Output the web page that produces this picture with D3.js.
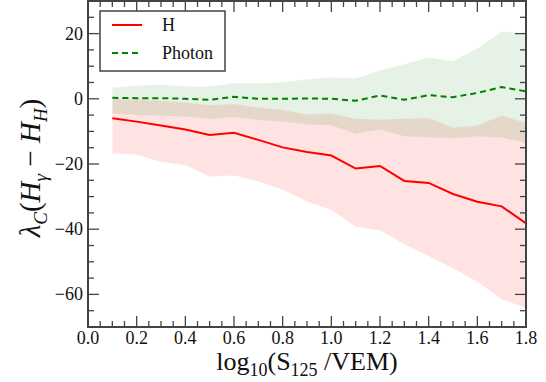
<!DOCTYPE html>
<html>
<head>
<meta charset="utf-8">
<script src="https://d3js.org/d3.v7.min.js"></script>
<style>
  body { margin: 0; background: #fff; }
  svg { display: block; }
  svg text { font-family: "Liberation Serif", "Times New Roman", "DejaVu Serif", serif; }
</style>
</head>
<body>
<svg id="chart" width="546" height="382"></svg>
<script>
// log10(S125/VEM) bins
const xs = [0.1, 0.2, 0.3, 0.4, 0.5, 0.6, 0.7, 0.8, 0.9, 1.0, 1.1, 1.2, 1.3, 1.4, 1.5, 1.6, 1.7, 1.8];
// H: mean and band
const hMean  = [-6.0, -7.0, -8.2, -9.4, -11.1, -10.4, -12.6, -14.9, -16.3, -17.4, -21.4, -20.6, -25.2, -25.8, -29.2, -31.6, -33.0, -38.2];
const hUpper = [0.0, -0.3, -0.6, -1.1, -2.0, -1.6, -2.7, -3.4, -4.8, -4.6, -6.1, -6.4, -6.1, -5.9, -8.9, -8.2, -5.1, -7.4];
const hLower = [-16.8, -17.1, -19.4, -20.3, -23.8, -23.5, -25.3, -27.9, -31.5, -34.1, -39.2, -40.4, -44.6, -48.2, -52.0, -56.1, -61.5, -64.2];
// Photon: mean and band
const pMean  = [0.3, 0.2, 0.2, 0.0, -0.3, 0.6, 0.0, 0.0, 0.1, 0.0, -0.6, 1.0, -0.3, 1.1, 0.5, 1.8, 3.6, 2.3];
const pUpper = [3.4, 4.0, 4.3, 3.8, 3.8, 4.8, 4.7, 5.1, 5.9, 6.5, 6.2, 8.7, 10.6, 12.7, 11.5, 15.4, 20.6, 20.0];
const pLower = [-4.4, -5.0, -5.2, -5.4, -6.2, -5.6, -6.5, -7.0, -7.9, -8.1, -10.7, -9.4, -11.5, -11.8, -12.1, -11.5, -11.9, -13.5];

const xTicks = [0.0, 0.2, 0.4, 0.6, 0.8, 1.0, 1.2, 1.4, 1.6, 1.8];
const yTicks = [-60, -40, -20, 0, 20];

const svg = d3.select("#chart");
const m = { left: 88, right: 20, top: 1, bottom: 55 };
const W = 546, H = 382;
const x = d3.scaleLinear().domain([0, 1.8]).range([m.left, W - m.right]);
const y = d3.scaleLinear().domain([-70, 30]).range([H - m.bottom, m.top]);
const axisColor = "#444";

// bands
const band = (lo, hi) => d3.area()
  .x((d, i) => x(xs[i]))
  .y0((d, i) => y(lo[i]))
  .y1((d, i) => y(hi[i]))(xs);

svg.append("path").attr("d", band(hLower, hUpper))
  .attr("fill", "red").attr("fill-opacity", 0.11);
svg.append("path").attr("d", band(pLower, pUpper))
  .attr("fill", "#008000").attr("fill-opacity", 0.1);

// lines
const line = vals => d3.line().x((d, i) => x(xs[i])).y((d, i) => y(vals[i]))(xs);
svg.append("path").attr("d", line(hMean))
  .attr("fill", "none").attr("stroke", "red").attr("stroke-width", 2);
svg.append("path").attr("d", line(pMean))
  .attr("fill", "none").attr("stroke", "#008000").attr("stroke-width", 2)
  .attr("stroke-dasharray", "6,4");

// ticks (inward on all four sides)
const g = svg.append("g").attr("stroke", axisColor).attr("stroke-width", 1.3);
const x0 = x(0), x1 = x(1.8), y0 = y(-70), y1 = y(30);
d3.range(0, 1.8001, 0.05).forEach(v => {
  const major = Math.abs(v / 0.2 - Math.round(v / 0.2)) < 1e-6;
  const len = major ? 11 : 6;
  g.append("line").attr("x1", x(v)).attr("x2", x(v)).attr("y1", y0).attr("y2", y0 - len);
  g.append("line").attr("x1", x(v)).attr("x2", x(v)).attr("y1", y1).attr("y2", y1 + len);
});
d3.range(-70, 30.001, 5).forEach(v => {
  const major = v % 20 === 0;
  const len = major ? 11 : 6;
  g.append("line").attr("y1", y(v)).attr("y2", y(v)).attr("x1", x0).attr("x2", x0 + len);
  g.append("line").attr("y1", y(v)).attr("y2", y(v)).attr("x1", x1).attr("x2", x1 - len);
});

// frame
svg.append("rect").attr("x", x0).attr("y", y1)
  .attr("width", x1 - x0).attr("height", y0 - y1)
  .attr("fill", "none").attr("stroke", axisColor).attr("stroke-width", 2);

// tick labels
svg.selectAll(".xt").data(xTicks).enter().append("text")
  .attr("x", d => x(d)).attr("y", y0 + 17)
  .attr("text-anchor", "middle").attr("font-size", 18).attr("fill", "#111")
  .text(d => d.toFixed(1));
svg.selectAll(".yt").data(yTicks).enter().append("text")
  .attr("x", x0 - 5).attr("y", d => y(d) + 6)
  .attr("text-anchor", "end").attr("font-size", 18).attr("fill", "#111")
  .text(d => d < 0 ? "\u2212" + Math.abs(d) : d);

// x label
const xl = svg.append("text").attr("x", (x0 + x1) / 2).attr("y", 370)
  .attr("text-anchor", "middle").attr("font-size", 26).attr("fill", "#111");
xl.append("tspan").text("log");
xl.append("tspan").attr("font-size", 18).attr("dy", 6).text("10");
xl.append("tspan").attr("dy", -6).text("(S");
xl.append("tspan").attr("font-size", 18).attr("dy", 6).text("125");
xl.append("tspan").attr("dy", -6).text(" /VEM)");

// y label
const yl = svg.append("text").attr("transform", `translate(40,${(y0 + y1) / 2 + 4}) rotate(-90)`)
  .attr("text-anchor", "middle").attr("font-size", 29).attr("fill", "#111");
yl.append("tspan").attr("font-style", "italic").text("\u03bb");
yl.append("tspan").attr("font-size", 19).attr("font-style", "italic").attr("dy", 7).text("C");
yl.append("tspan").attr("dy", -7).text("(");
yl.append("tspan").attr("font-style", "italic").text("H");
yl.append("tspan").attr("font-size", 19).attr("font-style", "italic").attr("dy", 7).text("\u03b3");
yl.append("tspan").attr("dy", -7).text(" \u2212 ");
yl.append("tspan").attr("font-style", "italic").text("H");
yl.append("tspan").attr("font-size", 19).attr("font-style", "italic").attr("dy", 7).text("H");
yl.append("tspan").attr("dy", -7).text(")");

// legend
const lg = svg.append("g");
lg.append("rect").attr("x", 100).attr("y", 11).attr("width", 125).attr("height", 60)
  .attr("fill", "#fff").attr("stroke", axisColor).attr("stroke-width", 1.5);
const entries = [
  { name: "H", color: "red", dash: null },
  { name: "Photon", color: "#008000", dash: "6,4" }
];
entries.forEach((e, i) => {
  const yy = 25 + i * 28;
  lg.append("line").attr("x1", 112).attr("x2", 142).attr("y1", yy).attr("y2", yy)
    .attr("stroke", e.color).attr("stroke-width", 2).attr("stroke-dasharray", e.dash);
  lg.append("text").attr("x", 162).attr("y", yy + 6).attr("font-size", 18).attr("fill", "#111")
    .text(e.name);
});
</script>
</body>
</html>
